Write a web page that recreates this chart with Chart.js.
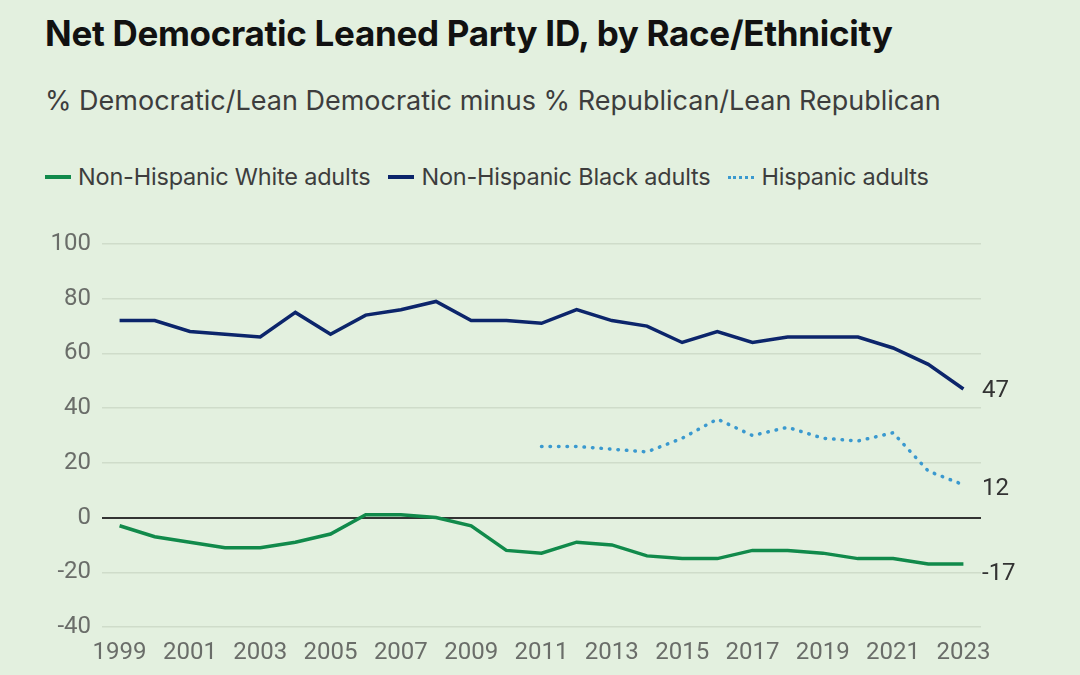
<!DOCTYPE html>
<html>
<head>
<meta charset="utf-8">
<script src="https://cdn.jsdelivr.net/npm/chart.js@4.4.1/dist/chart.umd.min.js"></script>
<style>
    html, body { margin: 0; padding: 0; }
    body {
        width: 1080px;
        height: 675px;
        background: #e3f0df;
        position: relative;
        overflow: hidden;
        font-family: Inter, "Noto Sans", sans-serif;
    }
    .chart-title {
        position: absolute;
        left: 45px;
        top: 11px;
        font-size: 35px;
        line-height: 44px;
        font-weight: 700;
        color: #111;
        letter-spacing: -0.3px;
    }
    .chart-subtitle {
        position: absolute;
        left: 45px;
        top: 84px;
        font-size: 27px;
        line-height: 34px;
        color: #3d3d3d;
    }
    .legend {
        position: absolute;
        left: 45px;
        top: 162px;
        display: flex;
        align-items: center;
        font-size: 23.5px;
        line-height: 30px;
        color: #3d3d3d;
        letter-spacing: -0.2px;
    }
    .legend-item { display: flex; align-items: center; margin-right: 18px; }
    .legend-swatch { width: 26px; height: 0; margin-right: 7px; }
    #chartWrap { position: absolute; left: 0; top: 0; width: 1080px; height: 675px; }
</style>
</head>
<body>

<div class="chart-title">Net Democratic Leaned Party ID, by Race/Ethnicity</div>
<div class="chart-subtitle">% Democratic/Lean Democratic minus % Republican/Lean Republican</div>
<div class="legend" id="legend"></div>

<div id="chartWrap"><canvas id="partyChart"></canvas></div>

<script>
// years on the x axis
const years = ["1999", "2000", "2001", "2002", "2003", "2004", "2005", "2006", "2007", "2008",
    "2009", "2010", "2011", "2012", "2013", "2014", "2015", "2016", "2017", "2018",
    "2019", "2020", "2021", "2022", "2023"];

const whiteAdults = [-3, -7, -9, -11, -11, -9, -6, 1, 1, 0,
    -3, -12, -13, -9, -10, -14, -15, -15, -12, -12,
    -13, -15, -15, -17, -17];

const blackAdults = [72, 72, 68, 67, 66, 75, 67, 74, 76, 79,
    72, 72, 71, 76, 72, 70, 64, 68, 64, 66,
    66, 66, 62, 56, 47];

// hispanic series starts in 2011
const hispanicAdults = [null, null, null, null, null, null, null, null, null, null,
    null, null, 26, 26, 25, 24, 29, 36, 30, 33,
    29, 28, 31, 17, 12];

const yTicks = [-40, -20, 0, 20, 40, 60, 80, 100];

const seriesNames = ["Non-Hispanic White adults", "Non-Hispanic Black adults", "Hispanic adults"];

const GREEN = "#118a4b";
const NAVY = "#0c256b";
const LIGHT_BLUE = "#3a99cf";

// html legend
const legendSwatches = [
    `border-top: 4px solid ${GREEN}`,
    `border-top: 4px solid ${NAVY}`,
    `border-top: 3px dotted ${LIGHT_BLUE}`
];
document.getElementById("legend").innerHTML = seriesNames.map((name, i) => `
    <div class="legend-item">
        <span class="legend-swatch" style="${legendSwatches[i]}"></span>${name}
    </div>
`).join("");

// value labels after last point
const endLabels = {
    id: "endLabels",
    afterDatasetsDraw(chart) {
        const ctx = chart.ctx;
        const offsets = [10, 2, 4];
        ctx.save();
        ctx.font = "24px Roboto, sans-serif";
        ctx.fillStyle = "#333";
        ctx.textBaseline = "middle";
        ctx.textAlign = "left";
        chart.data.datasets.forEach((ds, i) => {
            const meta = chart.getDatasetMeta(i);
            const last = meta.data[meta.data.length - 1];
            const val = ds.data[ds.data.length - 1];
            ctx.fillText(String(val), chart.chartArea.right + 1, last.y + offsets[i]);
        });
        ctx.restore();
    }
};

new Chart(document.getElementById("partyChart"), {
    type: "line",
    data: {
        labels: years,
        datasets: [
            {
                label: seriesNames[0],
                data: whiteAdults,
                borderColor: GREEN,
                borderWidth: 3.5,
                pointRadius: 0,
                tension: 0
            },
            {
                label: seriesNames[1],
                data: blackAdults,
                borderColor: NAVY,
                borderWidth: 3.5,
                pointRadius: 0,
                tension: 0
            },
            {
                label: seriesNames[2],
                data: hispanicAdults,
                borderColor: LIGHT_BLUE,
                borderWidth: 3.5,
                borderDash: [0.5, 8],
                borderCapStyle: "round",
                pointRadius: 0,
                tension: 0
            }
        ]
    },
    options: {
        responsive: true,
        maintainAspectRatio: false,
        animation: false,
        layout: { padding: { top: 244, right: 99, left: 0, bottom: 0 } },
        plugins: {
            legend: { display: false },
            tooltip: { enabled: false }
        },
        scales: {
            x: {
                offset: true,
                grid: { display: false, drawTicks: false },
                border: { display: false },
                afterFit: (scale) => { scale.height = 48; },
                ticks: {
                    autoSkip: false,
                    maxRotation: 0,
                    padding: 12,
                    color: "#6a6d69",
                    font: { family: "Roboto, sans-serif", size: 24 },
                    callback: function (value, index) {
                        return index % 2 === 0 ? this.getLabelForValue(value) : "";
                    }
                }
            },
            y: {
                min: -40,
                max: 100,
                afterFit: (scale) => { scale.width = 102; },
                afterBuildTicks: (scale) => { scale.ticks = yTicks.map(v => ({ value: v })); },
                grid: {
                    drawTicks: false,
                    color: (c) => c.tick && c.tick.value === 0 ? "#333" : "#cfdcca",
                    lineWidth: (c) => c.tick && c.tick.value === 0 ? 2 : 1.5
                },
                border: { display: false },
                ticks: {
                    padding: 11,
                    color: "#6a6d69",
                    font: { family: "Roboto, sans-serif", size: 24 }
                }
            }
        }
    },
    plugins: [endLabels]
});
</script>
</body>
</html>
